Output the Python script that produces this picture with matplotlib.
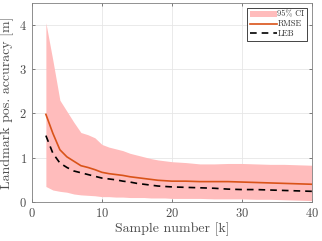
import numpy as np
import matplotlib.pyplot as plt

plt.rcParams['font.family'] = 'serif'
plt.rcParams['font.serif'] = ['cmr10', 'DejaVu Serif']
plt.rcParams['mathtext.fontset'] = 'cm'
plt.rcParams['axes.formatter.use_mathtext'] = True

# sample numbers
k = [2, 3, 4, 5, 6, 7, 8, 9, 10, 11, 12, 13, 14, 15, 16, 17, 18, 19, 20,
     22, 24, 26, 28, 30, 32, 34, 36, 38, 40]

ci_upper = [4.05, 3.2, 2.3, 2.05, 1.8, 1.57, 1.52, 1.45, 1.3, 1.24, 1.2, 1.16,
            1.1, 1.06, 1.02, 0.98, 0.95, 0.93, 0.91, 0.89, 0.86, 0.86, 0.87,
            0.87, 0.86, 0.85, 0.85, 0.84, 0.83]
ci_lower = [0.35, 0.27, 0.24, 0.22, 0.18, 0.16, 0.15, 0.14, 0.12, 0.12, 0.11,
            0.11, 0.1, 0.1, 0.1, 0.09, 0.09, 0.09, 0.08, 0.08, 0.08, 0.07,
            0.07, 0.07, 0.06, 0.06, 0.05, 0.04, 0.03]
rmse = [1.98, 1.55, 1.18, 1.02, 0.92, 0.82, 0.78, 0.73, 0.67, 0.64, 0.62,
        0.6, 0.57, 0.55, 0.53, 0.51, 0.49, 0.48, 0.47, 0.47, 0.46, 0.46,
        0.46, 0.45, 0.44, 0.43, 0.42, 0.41, 0.4]
leb = [1.5, 1.1, 0.88, 0.78, 0.7, 0.66, 0.62, 0.58, 0.54, 0.52, 0.5, 0.47,
       0.45, 0.42, 0.4, 0.38, 0.36, 0.35, 0.34, 0.33, 0.32, 0.31, 0.29, 0.28,
       0.28, 0.27, 0.26, 0.25, 0.24]

fig = plt.figure(figsize=(3.22, 2.41), dpi=100)
ax = fig.add_axes([0.099, 0.162, 0.87, 0.826])

ax.fill_between(k, ci_lower, ci_upper, color='#ffbcbc', lw=0, label='95% CI')
ax.plot(k, rmse, color='#d95319', lw=1.2, label='RMSE')
ax.plot(k, leb, color='black', lw=1.2, ls=(0, (4, 3)), label='LEB')

ax.set_xlim(0, 40)
ax.set_ylim(0, 4.5)
ax.set_xticks([0, 10, 20, 30, 40])
ax.set_yticks([0, 1, 2, 3, 4])
ax.grid(True, color='#e6e6e6', lw=0.6)
ax.set_axisbelow(True)
ax.tick_params(direction='in', length=2, labelsize=9, colors='#4d4d4d',
               top=True, right=True, width=0.5)
for s in ax.spines.values():
    s.set_color('#808080')
    s.set_linewidth(0.6)

ax.set_xlabel('Sample number [k]', fontsize=10, labelpad=2, color='#4d4d4d')
ax.set_ylabel('Landmark pos. accuracy [m]', fontsize=10, labelpad=4,
              color='#4d4d4d')

leg = ax.legend(loc='upper right', fontsize=6, frameon=True, fancybox=False,
                edgecolor='#262626', framealpha=1, borderpad=0.3,
                handlelength=3.2, handletextpad=0.1, labelspacing=0.15,
                borderaxespad=0.6)
leg.get_frame().set_linewidth(0.6)
for t in leg.get_texts():
    t.set_color('#333333')

fig.savefig('out.png', dpi=100)
